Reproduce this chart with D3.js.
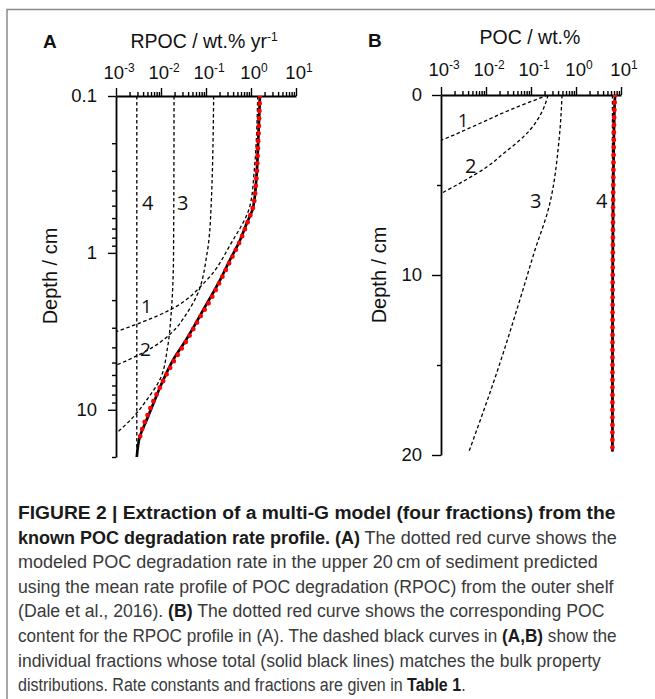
<!DOCTYPE html>
<html><head><meta charset="utf-8">
<script src="https://cdn.jsdelivr.net/npm/d3@7"></script>
<style>body{margin:0;background:#fff}svg{display:block}</style>
</head><body>
<svg id="c" width="655" height="699"></svg>
<script>
// ---------------- DATA ----------------
// Panel A: RPOC (wt.% yr-1) vs depth (cm), log-log
const xTickExpA = [-3, -2, -1, 0, 1];
const yTicksA = [0.1, 1, 10];
const depthTotalA = [0.1, 0.19, 0.31, 0.51, 0.65, 0.83, 1.11, 1.49, 2.31, 3.59, 4.82, 6.46, 9.1, 11.6, 14.8, 20];
const rpocTotal   = [1.58, 1.45, 1.34, 1.12, 0.80, 0.57, 0.34, 0.205, 0.087, 0.036, 0.0185, 0.0112, 0.0068, 0.0048, 0.0034, 0.0029];
const depthModelA = [0.1, 0.2, 0.35, 0.5, 0.65, 0.85, 1.1, 1.5, 2.0, 2.6, 3.5, 4.7, 6.3, 8.5, 11, 13, 15];
const rpocModel   = [1.58, 1.44, 1.30, 1.13, 0.82, 0.56, 0.36, 0.21, 0.125, 0.072, 0.040, 0.021, 0.012, 0.0072, 0.0049, 0.0039, 0.0034];
const depthA1 = [0.1, 0.3, 0.5, 0.87, 1.49, 2.31, 3.3];
const rpoc1   = [1.41, 1.18, 0.95, 0.36, 0.104, 0.0158, 0.0007];
const depthA2 = [0.1, 0.5, 1, 1.94, 2.5, 3, 4, 4.8, 5.5];
const rpoc2   = [0.148, 0.130, 0.106, 0.059, 0.035, 0.022, 0.0065, 0.0019, 0.00063];
const depthA3 = [0.1, 1, 2.5, 4, 6.4, 8.6, 11, 13, 15.4];
const rpoc3   = [0.0195, 0.0190, 0.0167, 0.0140, 0.0095, 0.0049, 0.0025, 0.0014, 0.0007];
const depthA4 = [0.1, 20];
const rpoc4   = [0.0029, 0.0029];

// Panel B: POC (wt.%) vs depth (cm), log x, linear y
const yTicksB = [0, 10, 20];
const depthTotalB = [0, 0.5, 1, 2, 3, 5, 7, 10, 14, 19.8];
const pocTotal    = [7.42, 7.21, 7.11, 6.98, 6.89, 6.74, 6.65, 6.54, 6.48, 6.45];
const pocModel    = [7.42, 7.20, 7.10, 6.97, 6.88, 6.74, 6.65, 6.54, 6.48, 6.45];
const depthB1 = [0, 0.83, 1.57, 2.5, 2.8];
const poc1    = [0.24, 0.034, 0.0074, 0.00104, 0.0005];
const depthB2 = [0, 1, 1.94, 2.5, 3.2, 4.0, 4.8, 5.5];
const poc2    = [0.24, 0.17, 0.095, 0.057, 0.026, 0.0104, 0.0031, 0.00095];
const depthB3 = [0, 2.5, 6.4, 8.6, 11, 15.4, 19.8];
const poc3    = [0.49, 0.42, 0.24, 0.123, 0.063, 0.0175, 0.0042];
const depthB4 = [0, 19.8];
const poc4    = [6.45, 6.45];

const captionLines = [
  [["FIGURE 2 | Extraction of a multi-G model (four fractions) from the", true]],
  [["known POC degradation rate profile. (A)", true], [" The dotted red curve shows the", false]],
  [["modeled POC degradation rate in the upper 20\u2009cm of sediment predicted", false]],
  [["using the mean rate profile of POC degradation (RPOC) from the outer shelf", false]],
  [["(Dale et al., 2016). ", false], ["(B)", true], [" The dotted red curve shows the corresponding POC", false]],
  [["content for the RPOC profile in (A). The dashed black curves in ", false], ["(A,B)", true], [" show the", false]],
  [["individual fractions whose total (solid black lines) matches the bulk property", false]],
  [["distributions. Rate constants and fractions are given in ", false], ["Table 1", true], [".", false]]
];
const captionEnds = [616, 617, 598, 614, 605, 617, 601, 466];

// ---------------- DRAW ----------------
const svg = d3.select("#c");
const FONT = "'Liberation Sans', Arial, sans-serif";
const TICKFS = 18.5;
svg.append("rect").attr("width", 655).attr("height", 699).attr("fill", "#fff");
svg.append("path").attr("d", "M7,699V9.5H655").attr("fill", "none").attr("stroke", "#8a8a8a").attr("stroke-width", 1.5);

const xA = d3.scaleLog().domain([1e-3, 1e1]).range([116, 296]);
const yA = d3.scaleLog().domain([0.1, 20]).range([96, 457]);
const xB = d3.scaleLog().domain([1e-3, 1e1]).range([441, 621]);
const yB = d3.scaleLinear().domain([0, 20]).range([95, 455]);

const majorX = xTickExpA.map(e => Math.pow(10, e));
const minorX = [];
for (let e = -3; e < 1; e++) for (let d = 2; d <= 9; d++) minorX.push(d * Math.pow(10, e));

function styleAxis(g) {
  g.select(".domain").attr("stroke", "#000").attr("stroke-width", 1.8);
  g.selectAll(".tick line").attr("stroke", "#000").attr("stroke-width", 1.4);
  g.selectAll(".tick text").attr("font-family", FONT).attr("font-size", TICKFS).attr("fill", "#111");
}

function topAxis(x, y0, labelY) {
  const g1 = svg.append("g").attr("transform", `translate(0,${y0})`)
    .call(d3.axisTop(x).tickValues(majorX).tickSize(8).tickSizeOuter(0).tickFormat(""));
  styleAxis(g1);
  const g2 = svg.append("g").attr("transform", `translate(0,${y0})`)
    .call(d3.axisTop(x).tickValues(minorX).tickSize(4).tickSizeOuter(0).tickFormat(""));
  g2.select(".domain").remove();
  styleAxis(g2);
  xTickExpA.forEach(e => {
    const t = svg.append("text").attr("x", x(Math.pow(10, e)) + 3).attr("y", labelY)
      .attr("text-anchor", "middle").attr("font-family", FONT).attr("font-size", TICKFS).attr("fill", "#111");
    t.append("tspan").text("10");
    t.append("tspan").attr("dy", -7.5).attr("font-size", 12).text(String(e));
  });
}

// Panel A axes
topAxis(xA, 96, 79);
const gyA = svg.append("g").attr("transform", "translate(116,0)")
  .call(d3.axisLeft(yA).tickValues(yTicksA).tickSize(8).tickPadding(11).tickSizeOuter(0)
    .tickFormat(d => d < 1 ? "0.1" : String(d)));
styleAxis(gyA);
const minorYA = [];
for (const e of [-1, 0]) for (let d = 2; d <= 9; d++) minorYA.push(+(d * Math.pow(10, e)).toFixed(2));
minorYA.push(20);
const gyA2 = svg.append("g").attr("transform", "translate(116,0)")
  .call(d3.axisLeft(yA).tickValues(minorYA).tickSize(4).tickSizeOuter(0).tickFormat(""));
gyA2.select(".domain").remove();
styleAxis(gyA2);

// Panel B axes
topAxis(xB, 95, 76);
const gyB = svg.append("g").attr("transform", "translate(441,0)")
  .call(d3.axisLeft(yB).tickValues(yTicksB).tickSize(9).tickPadding(10).tickSizeOuter(0));
styleAxis(gyB);
const gyB2 = svg.append("g").attr("transform", "translate(441,0)")
  .call(d3.axisLeft(yB).tickValues([5, 15]).tickSize(4).tickSizeOuter(0).tickFormat(""));
gyB2.select(".domain").remove();
styleAxis(gyB2);

// Titles
function txt(x, y, s, opts = {}) {
  return svg.append("text").attr("x", x).attr("y", y).attr("font-family", opts.font || FONT)
    .attr("font-size", opts.size || 17).attr("font-weight", opts.bold ? "bold" : null)
    .attr("text-anchor", opts.anchor || "start").attr("fill", opts.fill || "#111").text(s);
}
txt(43, 48, "A", { bold: true, size: 19 });
txt(368, 47, "B", { bold: true, size: 19 });
const tA = txt(204, 48, "RPOC / wt.% yr", { anchor: "middle", size: 19.5 });
tA.append("tspan").attr("dy", -7.5).attr("font-size", 12).text("-1");
txt(530, 44, "POC / wt.%", { anchor: "middle", size: 19.5 });
svg.append("text").attr("transform", "translate(57,276) rotate(-90)").attr("text-anchor", "middle")
  .attr("font-family", FONT).attr("font-size", 20).attr("fill", "#111").text("Depth / cm");
svg.append("text").attr("transform", "translate(386,275) rotate(-90)").attr("text-anchor", "middle")
  .attr("font-family", FONT).attr("font-size", 20).attr("fill", "#111").text("Depth / cm");

// Clips
const defs = svg.append("defs");
defs.append("clipPath").attr("id", "clipA").append("rect").attr("x", 116).attr("y", 96).attr("width", 185).attr("height", 362);
defs.append("clipPath").attr("id", "clipB").append("rect").attr("x", 441).attr("y", 95).attr("width", 185).attr("height", 361);

function drawLine(clip, x, y, ds, vs, kind) {
  const pts = ds.map((d, i) => [x(vs[i]), y(d)]);
  const line = d3.line().curve(d3.curveMonotoneY);
  const p = svg.append("path").attr("clip-path", `url(#${clip})`).attr("d", line(pts)).attr("fill", "none");
  if (kind === "dash") p.attr("stroke", "#000").attr("stroke-width", 1.3).attr("stroke-dasharray", "3.5 2.5");
  else if (kind === "solid") p.attr("stroke", "#000").attr("stroke-width", 2.7);
  else p.attr("stroke", "#ff0000").attr("stroke-width", 4.8).attr("stroke-dasharray", "0 7.5").attr("stroke-linecap", "round");
}

// Panel A lines
drawLine("clipA", xA, yA, depthA4, rpoc4, "dash");
drawLine("clipA", xA, yA, depthA3, rpoc3, "dash");
drawLine("clipA", xA, yA, depthA2, rpoc2, "dash");
drawLine("clipA", xA, yA, depthA1, rpoc1, "dash");
drawLine("clipA", xA, yA, depthTotalA, rpocTotal, "solid");
drawLine("clipA", xA, yA, depthModelA, rpocModel, "dot");

// Panel B lines
drawLine("clipB", xB, yB, depthB4, poc4, "dash");
drawLine("clipB", xB, yB, depthB3, poc3, "dash");
drawLine("clipB", xB, yB, depthB2, poc2, "dash");
drawLine("clipB", xB, yB, depthB1, poc1, "dash");
drawLine("clipB", xB, yB, depthTotalB, pocTotal, "solid");
drawLine("clipB", xB, yB, depthTotalB, pocModel, "dot");

// Curve labels
const LF = "'Open Sans', sans-serif";
txt(142, 210, "4", { font: LF, size: 20 });
txt(177, 210, "3", { font: LF, size: 20 });
txt(141, 313, "1", { font: LF, size: 19 });
txt(140, 356, "2", { font: LF, size: 19 });
txt(458, 127, "1", { font: LF, size: 18 });
txt(465, 173, "2", { font: LF, size: 20 });
txt(530, 208, "3", { font: LF, size: 20 });
txt(596, 208, "4", { font: LF, size: 20 });

// Caption
const capY0 = 519, capDY = 24.6;
captionLines.forEach((segs, i) => {
  const g = svg.append("g").attr("transform", `translate(18,${capY0 + i * capDY})`);
  const t = g.append("text").attr("x", 0).attr("y", 0)
    .attr("font-family", FONT).attr("font-size", 19).attr("fill", "#3a3a3a");
  segs.forEach(([s, b]) => {
    t.append("tspan").attr("font-weight", b ? "bold" : "normal").attr("fill", b ? "#1a1a1a" : "#3a3a3a").text(s);
  });
  const w = t.node().getComputedTextLength();
  const sx = (captionEnds[i] - 18) / w;
  t.attr("transform", `scale(${sx},1)`);
});
</script></body></html>
